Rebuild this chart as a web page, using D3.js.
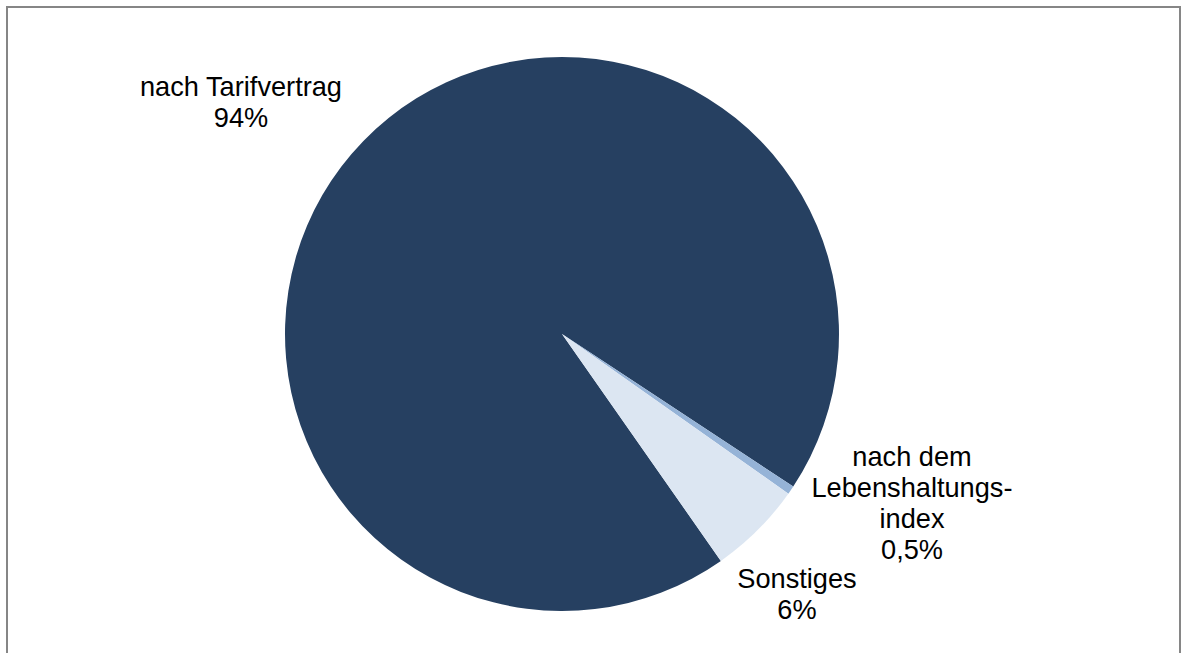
<!DOCTYPE html>
<html>
<head>
<meta charset="utf-8">
<script src="https://cdn.jsdelivr.net/npm/d3@7"></script>
<style>
  html, body { margin: 0; padding: 0; background: #ffffff; }
  svg { display: block; }
  text { font-family: "Liberation Sans", Arial, sans-serif; fill: #000000; }
</style>
</head>
<body>
<svg id="chart" width="1182" height="653"></svg>
<script>
const categories = ["nach Tarifvertrag", "nach dem Lebenshaltungsindex", "Sonstiges"];
const values = [94, 0.5, 5.5];
const valueLabels = ["94%", "0,5%", "6%"];
const labelLines = [
  ["nach Tarifvertrag", "94%"],
  ["nach dem", "Lebenshaltungs-", "index", "0,5%"],
  ["Sonstiges", "6%"]
];
const colors = ["#264061", "#95b3d7", "#dce6f2"];

const svg = d3.select("#chart");

// outer frame
svg.append("rect")
  .attr("x", 7).attr("y", 7)
  .attr("width", 1173).attr("height", 660)
  .attr("fill", "#ffffff")
  .attr("stroke", "#868686")
  .attr("stroke-width", 2);

const cx = 562, cy = 334, R = 277;
const start = 145 * Math.PI / 180;

const pie = d3.pie().sort(null).value(d => d)
  .startAngle(start).endAngle(start + 2 * Math.PI);
const arcs = pie(values);
const arc = d3.arc().innerRadius(0).outerRadius(R);

const g = svg.append("g").attr("transform", `translate(${cx},${cy})`);
g.selectAll("path.slice").data(arcs).enter().append("path")
  .attr("class", "slice")
  .attr("d", arc)
  .attr("fill", (d, i) => colors[i]);

const labelPos = [
  {x: 241, y: 96},
  {x: 912, y: 466},
  {x: 797, y: 588}
];
const lineH = 31;
labelLines.forEach((lines, i) => {
  const t = svg.append("text")
    .attr("text-anchor", "middle")
    .attr("font-size", "27.2px");
  lines.forEach((ln, j) => {
    t.append("tspan")
      .attr("x", labelPos[i].x)
      .attr("y", labelPos[i].y + j * lineH)
      .text(ln);
  });
});
</script>
</body>
</html>
